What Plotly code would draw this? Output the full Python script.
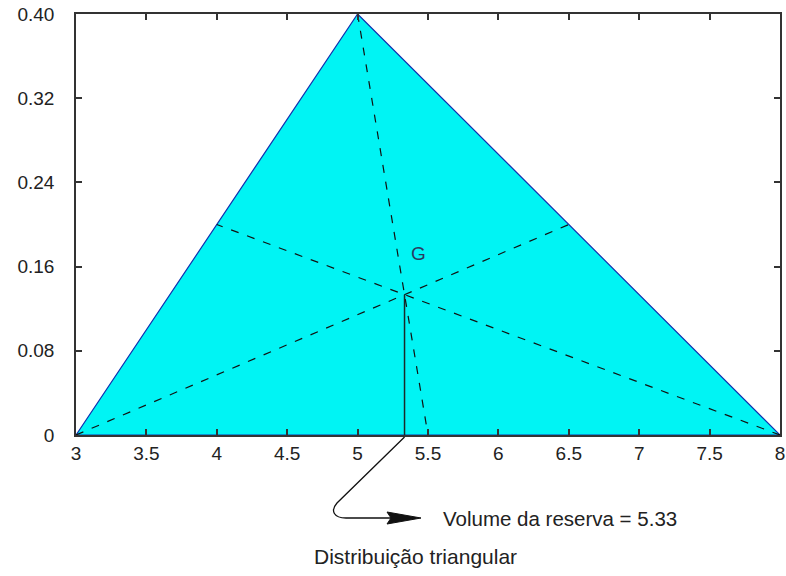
import plotly.graph_objects as go

# Triangular distribution parameters
tri_min = 3.0
tri_mode = 5.0
tri_max = 8.0
peak = 2.0 / (tri_max - tri_min)  # 0.40

tri_x = [tri_min, tri_mode, tri_max, tri_min]
tri_y = [0.0, peak, 0.0, 0.0]

# centroid
gx = (tri_min + tri_mode + tri_max) / 3.0
gy = peak / 3.0

# medians: vertex -> midpoint of opposite side
med_from_x = [tri_min, tri_max, tri_mode]
med_from_y = [0.0, 0.0, peak]
med_to_x = [(tri_mode + tri_max) / 2, (tri_min + tri_mode) / 2, (tri_min + tri_max) / 2]
med_to_y = [peak / 2, peak / 2, 0.0]

x_ticks = [3, 3.5, 4, 4.5, 5, 5.5, 6, 6.5, 7, 7.5, 8]
x_ticktext = ["3", "3.5", "4", "4.5", "5", "5.5", "6", "6.5", "7", "7.5", "8"]
y_ticks = [0, 0.08, 0.16, 0.24, 0.32, 0.40]
y_ticktext = ["0", "0.08", "0.16", "0.24", "0.32", "0.40"]

FONT = "Liberation Sans, Arial, sans-serif"
W, H = 786, 576
ML, MR, MT, MB = 76, 6, 14, 141
PW, PH = W - ML - MR, H - MT - MB

fig = go.Figure()

fig.add_trace(go.Scatter(
    x=tri_x, y=tri_y, mode="lines", fill="toself",
    fillcolor="#00F4F4", line=dict(color="#1030B0", width=1.2),
    hoverinfo="skip", showlegend=False))

for i in range(3):
    fig.add_trace(go.Scatter(
        x=[med_from_x[i], med_to_x[i]], y=[med_from_y[i], med_to_y[i]],
        mode="lines", line=dict(color="#111111", width=1.2, dash="8px,9px"),
        hoverinfo="skip", showlegend=False))

fig.add_trace(go.Scatter(
    x=[gx, gx], y=[gy, 0.0], mode="lines",
    line=dict(color="#1a2a2a", width=1.5),
    hoverinfo="skip", showlegend=False))


def px2paper(px, py):
    return (px - ML) / PW, (H - MB - py) / PH


# curved arrow from axis at centroid x to label
sx = ML + (gx - tri_min) / (tri_max - tri_min) * PW
pts = [(sx, 437), (337, 503), (330, 511), (334, 518), (346, 518), (392, 518)]
p = [px2paper(a, b) for a, b in pts]
path = (f"M {p[0][0]},{p[0][1]} L {p[1][0]},{p[1][1]} "
        f"C {p[2][0]},{p[2][1]} {p[3][0]},{p[3][1]} {p[4][0]},{p[4][1]} "
        f"L {p[5][0]},{p[5][1]}")
fig.add_shape(type="path", xref="paper", yref="paper", path=path,
              line=dict(color="#111111", width=1.3))
hp = [px2paper(a, b) for a, b in [(421, 518), (387, 512), (391, 518), (387, 524)]]
head = (f"M {hp[0][0]},{hp[0][1]} L {hp[1][0]},{hp[1][1]} "
        f"L {hp[2][0]},{hp[2][1]} L {hp[3][0]},{hp[3][1]} Z")
fig.add_shape(type="path", xref="paper", yref="paper", path=head,
              line=dict(color="#111111", width=1), fillcolor="#111111")

lx, ly = px2paper(441, 518)
fig.add_annotation(x=lx, y=ly, xref="paper", yref="paper", xanchor="left",
                   yanchor="middle", showarrow=False,
                   text=f"Volume da reserva = {gx:.2f}",
                   font=dict(family=FONT, size=20.5, color="#222222"))

tx, ty = px2paper(415, 556)
fig.add_annotation(x=tx, y=ty, xref="paper", yref="paper", xanchor="center",
                   yanchor="middle", showarrow=False,
                   text="Distribuição triangular",
                   font=dict(family=FONT, size=21, color="#222222"))

fig.add_annotation(x=5.43, y=0.172, xref="x", yref="y", showarrow=False,
                   text="G", font=dict(family=FONT, size=19, color="#2a3a60"))

axis_common = dict(showgrid=False, zeroline=False, showline=True,
                   linecolor="#333333", linewidth=1.5, mirror="allticks",
                   ticks="inside", ticklen=6, tickcolor="#333333", tickwidth=1.5,
                   automargin=False,
                   tickfont=dict(family=FONT, size=19, color="#222222"))

fig.update_xaxes(range=[tri_min, tri_max], tickvals=x_ticks, ticktext=x_ticktext,
                 ticklabelstandoff=0, **axis_common)
fig.update_yaxes(range=[0, peak], tickvals=y_ticks, ticktext=y_ticktext,
                 ticklabelstandoff=16, **axis_common)

fig.update_layout(width=W, height=H, margin=dict(l=ML, r=MR, t=MT, b=MB),
                  plot_bgcolor="white", paper_bgcolor="white", showlegend=False)

fig.write_html("out.html", config={"displayModeBar": False},
               post_script="document.body.style.margin='0';document.body.style.overflow='hidden';")
